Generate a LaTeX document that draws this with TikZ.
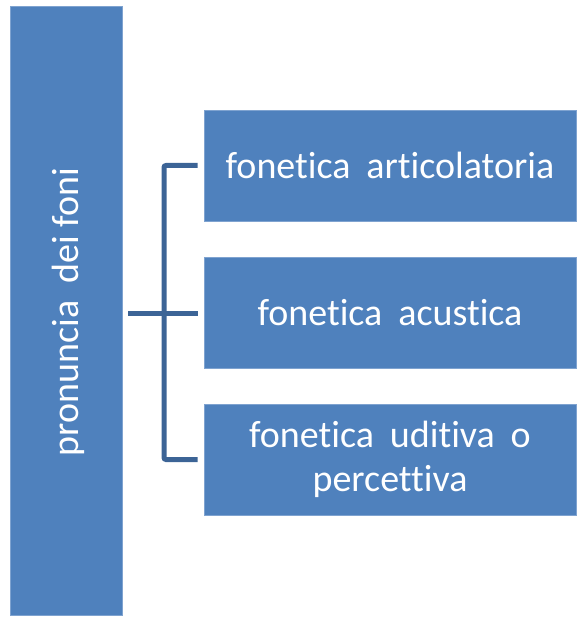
\documentclass[tikz,border=0pt]{standalone}
\usepackage{fontspec}
\setmainfont[Ligatures=CommonOff]{Carlito}
\definecolor{fnBox}{HTML}{4F81BD}
\definecolor{fnEdge}{HTML}{7FA3D0}
\definecolor{fnLine}{HTML}{3C6496}
\usetikzlibrary{calc,positioning}
\newcommand{\branchfont}{\fontsize{38}{44}\selectfont\spaceskip=0.42em\relax}

\begin{document}
\begin{tikzpicture}[x=1pt, y=-1pt,
  topic/.style={fill=fnBox, draw=fnEdge, line width=0.8pt, text=white,
    minimum width=112pt, minimum height=609pt, inner sep=0pt},
  branch/.style={fill=fnBox, draw=fnEdge, line width=0.8pt, text=white,
    minimum width=372pt, minimum height=111pt, align=center,
    font=\branchfont, inner sep=0pt},
  brace/.style={line width=5pt, color=fnLine}
]
  \useasboundingbox (0,0) rectangle (576,617);

  \node[topic] (main) at (66,311) {};
  \node[rotate=90, text=white, font=\fontsize{38}{44}\selectfont]
    (mainlabel) at (68,312) {pronuncia~ dei foni};

  \node[branch] (b1) at (390,165.5) {fonetica articolatoria};
  \node[branch] (b2) at (390,313) {fonetica acustica};
  \node[branch] (b3) at (390,459.5) {fonetica uditiva o\\percettiva};

  % bracket
  \coordinate (fork) at (164,313);
  \coordinate (stem) at (128,313);
  \draw[brace] (stem) -- ($(b2.west)+(-6,0)$);
  \draw[brace, rounded corners=2pt] ($(b1.west)+(-6,0)$) -| (fork)
    |- ($(b3.west)+(-6,0)$);
\end{tikzpicture}
\end{document}
